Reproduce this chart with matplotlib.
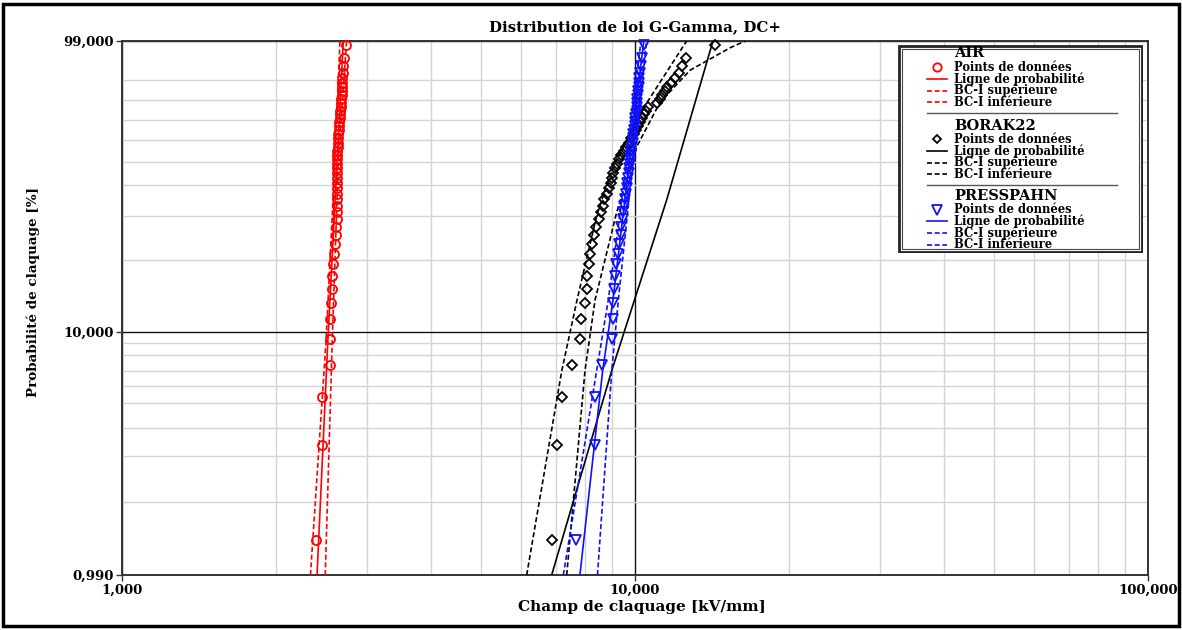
import numpy as np
import matplotlib
matplotlib.use("Agg")
import matplotlib.pyplot as plt
from matplotlib.patches import Rectangle

# ---------------- data ----------------
# median-rank probabilities (%) of the 50 plotted points of each series
RANK_P = [1.39, 3.37, 5.36, 7.34, 9.33, 11.31, 13.29, 15.28, 17.26, 19.25,
          21.23, 23.21, 25.20, 27.18, 29.17, 31.15, 33.13, 35.12, 37.10, 39.09,
          41.07, 43.06, 45.04, 47.02, 49.01, 50.99, 52.98, 54.96, 56.94, 58.93,
          60.91, 62.90, 64.88, 66.87, 68.85, 70.83, 72.82, 74.80, 76.79, 78.77,
          80.75, 82.74, 84.72, 86.71, 88.69, 90.67, 92.66, 94.64, 96.63, 98.61]

AIR_X = [2.39, 2.45, 2.45, 2.54, 2.54, 2.54, 2.56, 2.57, 2.57, 2.58,
         2.59, 2.60, 2.61, 2.61, 2.62, 2.62, 2.62, 2.62, 2.62, 2.62,
         2.62, 2.62, 2.62, 2.62, 2.63, 2.63, 2.63, 2.63, 2.64, 2.64,
         2.64, 2.64, 2.65, 2.65, 2.65, 2.66, 2.66, 2.66, 2.67, 2.67,
         2.67, 2.68, 2.68, 2.68, 2.69, 2.69, 2.70, 2.70, 2.71, 2.73]

BORAK_X = [6.90, 7.04, 7.20, 7.53, 7.81, 7.85, 7.99, 8.05, 8.06, 8.12,
           8.17, 8.25, 8.32, 8.40, 8.49, 8.59, 8.66, 8.72, 8.80, 8.88,
           8.96, 9.02, 9.08, 9.14, 9.23, 9.31, 9.41, 9.50, 9.61, 9.73,
           9.84, 9.96, 10.05, 10.14, 10.23, 10.32, 10.41, 10.51, 10.60, 11.04,
           11.19, 11.31, 11.44, 11.57, 11.75, 11.97, 12.16, 12.35, 12.55, 14.35]

PRESS_X = [7.66, 8.36, 8.36, 8.61, 9.00, 9.06, 9.08, 9.10, 9.14, 9.19,
           9.25, 9.31, 9.37, 9.41, 9.46, 9.48, 9.52, 9.56, 9.61, 9.63,
           9.65, 9.69, 9.72, 9.73, 9.78, 9.80, 9.82, 9.84, 9.87, 9.89,
           9.91, 9.93, 9.96, 9.98, 10.00, 10.02, 10.05, 10.07, 10.09, 10.09,
           10.11, 10.14, 10.14, 10.16, 10.18, 10.20, 10.23, 10.25, 10.30, 10.41]

# fitted probability lines and confidence bounds: (probability %, field)
AIR_LINE_P = [0.99, 9.3, 99.0]
AIR_LINE_X = [2.40, 2.52, 2.70]
AIR_UP_P = [0.99, 9.3, 50.0, 99.0]
AIR_UP_X = [2.33, 2.50, 2.60, 2.66]
AIR_LO_P = [0.99, 9.3, 50.0, 99.0]
AIR_LO_X = [2.49, 2.57, 2.64, 2.74]

BORAK_LINE_P = [0.99, 7.0, 35.0, 99.0]
BORAK_LINE_X = [6.88, 9.01, 11.53, 14.19]
BORAK_UP_P = [0.99, 7.0, 13.7, 30.0, 46.5, 75.0, 99.0]
BORAK_UP_X = [6.15, 7.20, 7.71, 8.42, 9.02, 10.32, 12.61]
BORAK_LO_P = [0.99, 7.0, 13.7, 31.0, 57.0, 79.0, 93.4, 98.3, 99.0]
BORAK_LO_X = [7.36, 7.99, 8.36, 9.21, 10.08, 11.19, 12.80, 15.32, 16.4]

PRESS_LINE_P = [0.99, 7.0, 13.7, 50.0, 99.0]
PRESS_LINE_X = [7.81, 8.65, 9.06, 9.75, 10.40]
PRESS_UP_P = [0.99, 7.0, 13.7, 50.0, 99.0]
PRESS_UP_X = [7.25, 8.42, 8.87, 9.65, 10.27]
PRESS_LO_P = [0.99, 7.0, 13.7, 50.0, 99.0]
PRESS_LO_X = [8.45, 9.01, 9.28, 9.91, 10.53]

# probability-paper scale: grid probabilities and their heights on the paper
GRID_P = [0.99, 2, 3, 4, 5, 6, 7, 8, 9, 10, 20, 30, 40, 50, 60, 70, 80, 90, 99]
GRID_H = [0, 73.5, 119, 147.3, 172, 189, 204.5, 220, 232, 243.2,
          314.6, 359.3, 389.6, 413.5, 434.7, 455.4, 474.8, 495.5, 534]

Y_TICKS = [0.99, 10, 99]
Y_TICKLABELS = ["0,990", "10,000", "99,000"]
X_TICKS = [1, 10, 100]
X_TICKLABELS = ["1,000", "10,000", "100,000"]

TITLE = "Distribution de loi G-Gamma, DC+"
XLABEL = "Champ de claquage [kV/mm]"
YLABEL = "Probabilité de claquage [%]"
GROUP_NAMES = ["AIR", "BORAK22", "PRESSPAHN"]
ENTRIES = ["Points de données", "Ligne de probabilité",
           "BC-I supérieure", "BC-I inférieure"]

# ---------------- scale ----------------
GW = np.log(-np.log(1 - np.array(GRID_P) / 100.0))
GH = np.array(GRID_H, dtype=float)


def _w(p):
    p = np.clip(np.asarray(p, dtype=float), 1e-6, 99.99999)
    return np.log(-np.log(1 - p / 100.0))


def _interp_ext(x, xp, fp):
    x = np.asarray(x, dtype=float)
    y = np.interp(x, xp, fp)
    s0 = (fp[1] - fp[0]) / (xp[1] - xp[0])
    s1 = (fp[-1] - fp[-2]) / (xp[-1] - xp[-2])
    y = np.where(x < xp[0], fp[0] + (x - xp[0]) * s0, y)
    y = np.where(x > xp[-1], fp[-1] + (x - xp[-1]) * s1, y)
    return y


def fwd(p):
    return _interp_ext(_w(p), GW, GH)


def inv(h):
    w = _interp_ext(h, GH, GW)
    return 100.0 * (1 - np.exp(-np.exp(w)))


# ---------------- figure ----------------
W, H = 1182, 630
plt.rcParams["font.family"] = "DejaVu Serif"
plt.rcParams["font.weight"] = "bold"
fig = plt.figure(figsize=(W / 100, H / 100), dpi=100)

L, R, T, B = 122, 1148, 41, 575
ax = fig.add_axes([L / W, (H - B) / H, (R - L) / W, (B - T) / H])
ax.set_xscale("log")
ax.set_yscale("function", functions=(fwd, inv))
ax.set_xlim(1, 100)
ax.set_ylim(0.99, 99)

ax.set_xticks(X_TICKS)
ax.set_xticklabels(X_TICKLABELS)
ax.set_xticks([m * d for d in (1, 10) for m in range(2, 10)], minor=True)
ax.set_xticklabels([], minor=True)
ax.set_yticks(Y_TICKS)
ax.set_yticklabels(Y_TICKLABELS)
ax.set_yticks([p for p in GRID_P if p not in Y_TICKS], minor=True)
ax.set_yticklabels([], minor=True)
ax.tick_params(which="minor", length=0)
ax.tick_params(which="major", length=4, width=1, color="#333333",
               labelsize=9.5, pad=2)
for lab in ax.get_xticklabels() + ax.get_yticklabels():
    lab.set_fontweight("bold")

ax.grid(which="minor", color="#d4d4d4", lw=1.0)
ax.grid(which="major", color="#111111", lw=1.0)
ax.set_axisbelow(True)
for s in ax.spines.values():
    s.set_color("#333333")
    s.set_linewidth(1.4)

RED, BLACK, BLUE = "#ff0000", "#000000", "#1010ff"
DASH = (0, (3, 1.6))
LW = 1.2

series = [
    (AIR_X, AIR_LINE_P, AIR_LINE_X, AIR_UP_P, AIR_UP_X, AIR_LO_P, AIR_LO_X, RED, "o", 6.5),
    (BORAK_X, BORAK_LINE_P, BORAK_LINE_X, BORAK_UP_P, BORAK_UP_X, BORAK_LO_P, BORAK_LO_X, BLACK, "D", 5.0),
    (PRESS_X, PRESS_LINE_P, PRESS_LINE_X, PRESS_UP_P, PRESS_UP_X, PRESS_LO_P, PRESS_LO_X, BLUE, "v", 7.5),
]
for xs, lp, lx, up, ux, lop, lox, c, mk, ms in series:
    ax.plot(lx, lp, color=c, lw=LW, zorder=3)
    ax.plot(ux, up, color=c, lw=LW, ls=DASH, zorder=3)
    ax.plot(lox, lop, color=c, lw=LW, ls=DASH, zorder=3)
    ax.plot(xs, RANK_P, ls="none", marker=mk, ms=ms, mfc="none", mec=c,
            mew=1.3, zorder=4, clip_on=False)

fig.text((L + R) / 2 / W, 1 - 27 / H, TITLE, ha="center", va="center",
         fontsize=10.8, fontweight="bold")
fig.text(642 / W, 1 - 607 / H, XLABEL, ha="center", va="center",
         fontsize=11, fontweight="bold")
fig.text(33 / W, 1 - 292 / H, YLABEL, ha="center", va="center",
         rotation=90, fontsize=9.7, fontweight="bold")

# ---------------- legend (drawn in its own pixel-like box) ----------------
LX0, LX1, LY0, LY1 = 898, 1143, 45, 253
lg = fig.add_axes([LX0 / W, (H - LY1) / H, (LX1 - LX0) / W, (LY1 - LY0) / H])
lg.set_xlim(LX0, LX1)
lg.set_ylim(LY1, LY0)
lg.axis("off")
lg.add_patch(Rectangle((LX0 + 1, LY0 + 1), LX1 - LX0 - 2, LY1 - LY0 - 2,
                       fill=True, fc="white", ec="#222222", lw=2.0))
lg.add_patch(Rectangle((LX0 + 4, LY0 + 4), LX1 - LX0 - 8, LY1 - LY0 - 8,
                       fill=False, ec="#444444", lw=0.8))

ROW = 11.7
groups = [(RED, "o", 6.0, 53.0, 67.3, 113.3),
          (BLACK, "D", 4.5, 126.0, 139.3, 185.0),
          (BLUE, "v", 6.5, 195.5, 209.5, None)]
TX = 954
for name, (c, mk, ms, hy, y0, sep) in zip(GROUP_NAMES, groups):
    ys = [y0 + i * ROW for i in range(4)]
    lg.text(TX, hy, name, ha="left", va="center", fontsize=10.5,
            fontweight="bold")
    lg.plot([936.7], [ys[0]], marker=mk, ms=ms, mfc="none", mec=c, mew=1.3)
    lg.plot([927, 947], [ys[1], ys[1]], color=c, lw=LW)
    lg.plot([927, 947], [ys[2], ys[2]], color=c, lw=LW, ls=DASH)
    lg.plot([927, 947], [ys[3], ys[3]], color=c, lw=LW, ls=DASH)
    for y, t in zip(ys, ENTRIES):
        lg.text(TX, y, t, ha="left", va="center", fontsize=8.3,
                fontweight="bold")
    if sep is not None:
        lg.plot([927, 1117], [sep, sep], color="#555555", lw=1.0)

# outer frame
fig.patches.append(Rectangle((3 / W, 4 / H), (W - 6) / W, (H - 8) / H,
                             transform=fig.transFigure, fill=False,
                             ec="black", lw=2.5))

fig.savefig("out.png", dpi=100)
